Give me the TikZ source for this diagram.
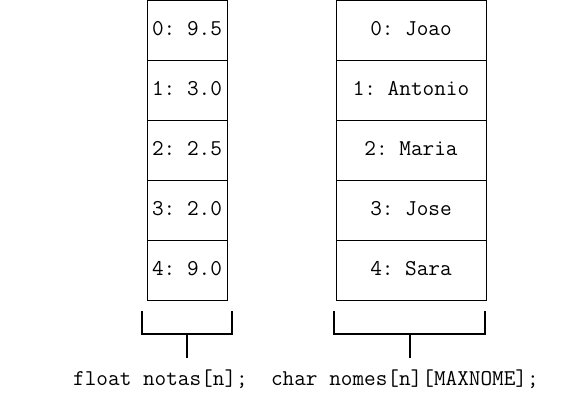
\documentclass[tikz,border=0pt]{standalone}
\usepackage{fontspec}
\begin{document}
\begin{tikzpicture}[x=1pt,y=-1pt,
  cell/.style={draw=black,line width=1pt,minimum width=#1,minimum height=60pt,inner sep=0pt,outer sep=0pt},
  celltext/.style={anchor=base,inner sep=0pt,font=\ttfamily\fontsize{22.6}{26}\selectfont\frenchspacing},
  brace/.style={line width=2pt,line cap=butt,line join=miter}]
\useasboundingbox (0,0) rectangle (569,402);
% left array
\foreach \i/\v in {0/9.5,1/3.0,2/2.5,3/2.0,4/9.0}{
  \node[cell=80pt] (L\i) at (187,{30.5+60*\i}) {};
  \node[celltext] (LT\i) at (187,{35.5+60*\i}) {\i: \v};
}
% right array
\foreach \i/\v in {0/Joao,1/Antonio,2/Maria,3/Jose,4/Sara}{
  \node[cell=150pt] (R\i) at (411,{30.5+60*\i}) {};
  \node[celltext] (RT\i) at (411,{35.5+60*\i}) {\i: \v};
}
% brackets
\coordinate (la) at (142,311);
\coordinate (lb) at (232,311);
\coordinate (lm) at (187,334);
\coordinate (ls) at (187,358);
\draw[brace] (la) |- (lm) -| (lb);
\draw[brace] (lm) -- (ls);
\coordinate (ra) at (334,311);
\coordinate (rb) at (485,311);
\coordinate (rm) at (410,334);
\coordinate (rs) at (410,358);
\draw[brace] (ra) |- (rm) -| (rb);
\draw[brace] (rm) -- (rs);
% caption
\node[celltext,anchor=base west] (cap) at (73,385) {float notas[n];\ \ char nomes[n][MAXNOME];};
\end{tikzpicture}
\end{document}
